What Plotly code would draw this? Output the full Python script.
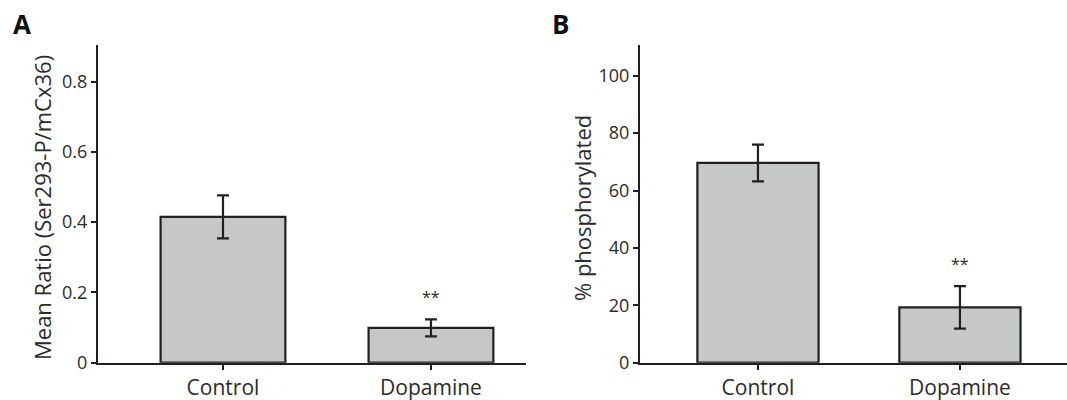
import plotly.graph_objects as go

categories = ["Control", "Dopamine"]
ratio_values = [0.415, 0.099]
ratio_errors = [0.061, 0.024]
phos_values = [69.6, 19.3]
phos_errors = [6.4, 7.4]
ratio_ticks = [0, 0.2, 0.4, 0.6, 0.8]
ratio_ticklabels = ["0", "0.2", "0.4", "0.6", "0.8"]
phos_ticks = [0, 20, 40, 60, 80, 100]
sig_labels = ["", "**"]

FONT = "Open Sans"
TXT = "#2b2b2b"
LINE = "#231f20"
FILL = "#c6c7c9"

fig = go.Figure()
fig.add_trace(go.Bar(
    x=[0, 1], y=ratio_values, width=0.6,
    marker=dict(color=FILL, line=dict(color=LINE, width=2.2)),
    error_y=dict(type="data", array=ratio_errors, color=LINE, thickness=2.2, width=6),
    xaxis="x", yaxis="y", showlegend=False))
fig.add_trace(go.Bar(
    x=[0, 1], y=phos_values, width=0.6,
    marker=dict(color=FILL, line=dict(color=LINE, width=2.2)),
    error_y=dict(type="data", array=phos_errors, color=LINE, thickness=2.2, width=6),
    xaxis="x2", yaxis="y2", showlegend=False))

ydom = [0.0933, 0.8875]
axis_common = dict(showline=True, linecolor=LINE, linewidth=2, ticks="outside",
                   ticklen=5, tickwidth=2, tickcolor=LINE, showgrid=False, zeroline=False,
                   automargin=False, tickfont=dict(family=FONT, size=18, color=TXT))
cat_font = dict(family=FONT, size=21, color=TXT)

fig.update_layout(
    width=1067, height=400, margin=dict(l=0, r=0, t=0, b=0),
    plot_bgcolor="white", paper_bgcolor="white",
    xaxis=dict(domain=[98/1067, 526/1067], range=[-0.601, 1.457], anchor="y",
               tickvals=[0, 1], ticktext=categories, **{**axis_common, "tickfont": cat_font}),
    yaxis=dict(domain=ydom, range=[0, 0.904], anchor="x",
               tickvals=ratio_ticks, ticktext=ratio_ticklabels, **axis_common),
    xaxis2=dict(domain=[640/1067, 1.0], range=[-0.584, 1.53], anchor="y2",
                tickvals=[0, 1], ticktext=categories, **{**axis_common, "tickfont": cat_font}),
    yaxis2=dict(domain=ydom, range=[0, 110.7], anchor="x2",
                tickvals=phos_ticks, **axis_common),
)

annotations = [
    dict(text="<b>A</b>", x=11/1067, y=1 - 24/400, xref="paper", yref="paper",
         xanchor="left", yanchor="middle", showarrow=False,
         font=dict(family=FONT, size=26, color="#111111")),
    dict(text="<b>B</b>", x=550/1067, y=1 - 24/400, xref="paper", yref="paper",
         xanchor="left", yanchor="middle", showarrow=False,
         font=dict(family=FONT, size=26, color="#111111")),
    dict(text="Mean Ratio (Ser293-P/mCx36)", x=42/1067, y=1 - 208/400, xref="paper", yref="paper",
         textangle=-90, xanchor="center", yanchor="middle", showarrow=False,
         font=dict(family=FONT, size=22, color=TXT)),
    dict(text="% phosphorylated", x=582/1067, y=1 - 208/400, xref="paper", yref="paper",
         textangle=-90, xanchor="center", yanchor="middle", showarrow=False,
         font=dict(family=FONT, size=22, color=TXT)),
]
for i, s in enumerate(sig_labels):
    if s:
        annotations.append(dict(text=s, x=i, y=ratio_values[i] + ratio_errors[i], xref="x", yref="y",
                                yshift=22, showarrow=False, xanchor="center", yanchor="middle",
                                font=dict(family=FONT, size=16, color=TXT)))
        annotations.append(dict(text=s, x=i, y=phos_values[i] + phos_errors[i], xref="x2", yref="y2",
                                yshift=22, showarrow=False, xanchor="center", yanchor="middle",
                                font=dict(family=FONT, size=16, color=TXT)))
fig.update_layout(annotations=annotations)

fig.write_html("out.html")
